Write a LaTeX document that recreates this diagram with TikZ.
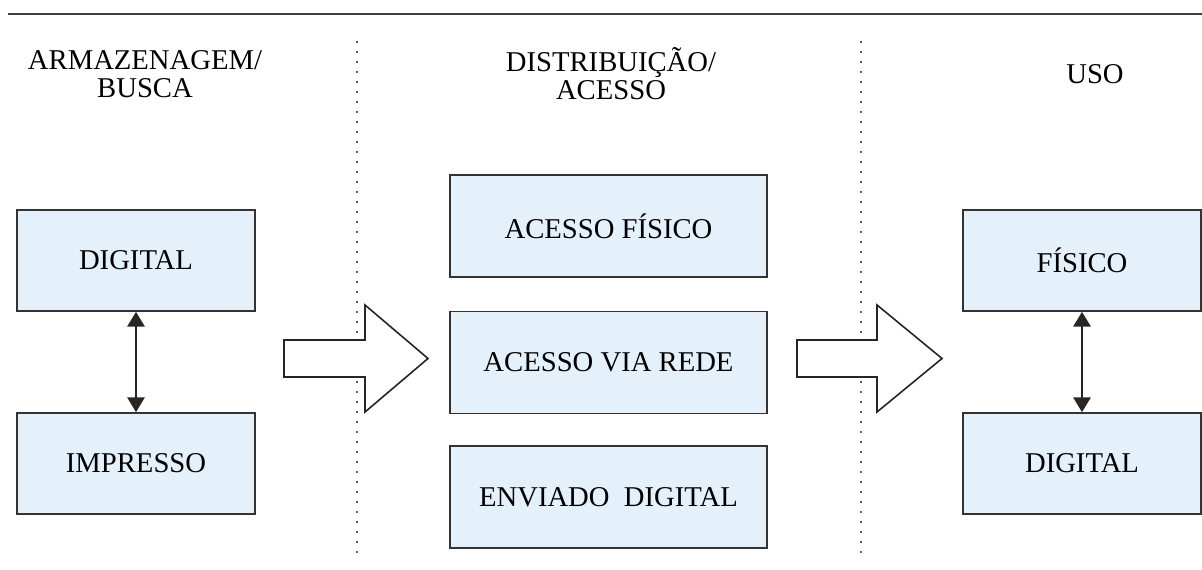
\documentclass[tikz,border=0pt]{standalone}
\usepackage{fontspec}
\setmainfont{Liberation Serif}
\usetikzlibrary{arrows.meta}
\definecolor{boxfill}{HTML}{E4F1FB}
\tikzset{
  box/.style={draw=black!80, line width=1.3pt, fill=boxfill, inner sep=0pt,
    font=\fontsize{21.5}{24}\selectfont, text=black},
  lbox/.style={box, minimum width=238*0.75pt, minimum height=101*0.75pt},
  mbox/.style={box, minimum width=317*0.75pt, minimum height=102*0.75pt},
  title/.style={font=\fontsize{21.5}{21}\selectfont, align=center, text=black},
  sep/.style={black!65, line width=1.4pt, dash pattern=on 1.4pt off 6.1pt},
  dbl/.style={{Triangle[length=11pt,width=13pt]}-{Triangle[length=11pt,width=13pt]}, line width=1.2pt, black!85},
  blockarrow/.style={draw=black!85, fill=white, line width=1.2pt, line join=miter}
}
\begin{document}
\begin{tikzpicture}[x=0.75pt,y=-0.75pt]
\useasboundingbox (0,0) rectangle (1202,570);
% top rule
\draw[black!75, line width=1.6pt] (8,14) -- (1202,14);
% separators
\draw[sep] (357,41) -- (357,556);
\draw[sep] (861,41) -- (861,556);
% titles
\node[title] (t1) at (145,74) {ARMAZENAGEM/\\BUSCA};
\node[title] (t2) at (611,74) {DISTRIBUIÇÃO/\\ACESSO};
\node[title] (t3) at (1095,74) {USO};
% left column
\node[lbox] (ld) at (136,260.5) {DIGITAL};
\node[lbox] (li) at (136,463.5) {IMPRESSO};
\draw[dbl] (ld.south) -- (li.north);
% middle column
\node[mbox] (ma) at (608.5,226) {ACESSO FÍSICO};
\node[mbox] (mr) at (608.5,362.5) {ACESSO VIA REDE};
\node[mbox] (me) at (608.5,497) {ENVIADO\ \ DIGITAL};
% right column
\node[lbox] (rf) at (1082,260.5) {FÍSICO};
\node[lbox] (rd) at (1082,463.5) {DIGITAL};
\draw[dbl] (rf.south) -- (rd.north);
% block arrows
\draw[blockarrow] (284,340) -- (365,340) -- (365,305) -- (428,358.5) -- (365,412) -- (365,377) -- (284,377) -- cycle;
\draw[blockarrow] (797,340) -- (877,340) -- (877,305) -- (942,358.5) -- (877,412) -- (877,377) -- (797,377) -- cycle;
\end{tikzpicture}
\end{document}
